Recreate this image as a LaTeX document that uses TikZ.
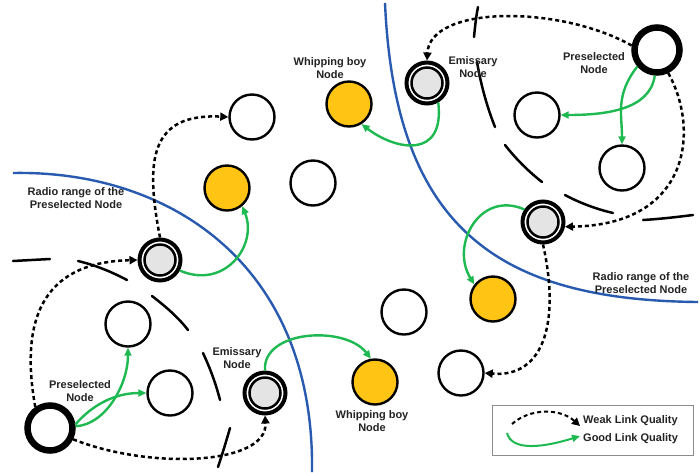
\documentclass[tikz,border=0pt]{standalone}
\usepackage{fontspec}
\setmainfont{Liberation Sans}
\usetikzlibrary{arrows.meta}
\definecolor{yellowc}{RGB}{255,196,20}
\definecolor{greenc}{RGB}{30,185,80}
\definecolor{bluec}{RGB}{40,90,175}
\definecolor{emgray}{RGB}{228,228,228}
\definecolor{txtc}{RGB}{35,35,35}
\definecolor{boxc}{RGB}{140,140,140}
\tikzset{
  whitenode/.style={circle, draw=black, line width=2.4pt, fill=white, minimum size=45pt, inner sep=0pt},
  yellownode/.style={whitenode, fill=yellowc},
  prenode/.style={circle, draw=black, line width=6.5pt, fill=white, minimum size=45pt, inner sep=0pt},
  emnode/.style={circle, draw=black, line width=4pt, fill=white, minimum size=41pt, inner sep=0pt,
    path picture={\fill[emgray] (path picture bounding box.center) circle (14.5pt);
      \draw[line width=2.5pt] (path picture bounding box.center) circle (15.5pt);}},
  weak/.style={line width=2.5pt, dash pattern=on 4pt off 3pt, -{Triangle[length=8pt,width=8pt]}},
  good/.style={line width=2.4pt, greenc, -{Triangle[length=8pt,width=7pt]}},
  rangeline/.style={line width=2.4pt, bluec},
  longdash/.style={line width=2.5pt, black, line cap=round},
  lab/.style={font=\bfseries\fontsize{11pt}{12.8pt}\selectfont, text=txtc, align=center, inner sep=0pt}
}
\begin{document}
\begin{tikzpicture}[x=1pt,y=-1pt]
\useasboundingbox (0,0) rectangle (700,472);
\fill[white] (0,0) rectangle (700,472);

% radio range curves
\draw[rangeline] (13,173) .. controls (170,170) and (315,265) .. (312,472);
\draw[rangeline] (385,3) .. controls (395,230) and (500,300) .. (698,302);

% long black dashes (ranges of emissary nodes)
\draw[longdash] (13,261) -- (50,259);
\draw[longdash] (78,261) .. controls (95,265) and (112,272) .. (127,280);
\draw[longdash] (152,296) .. controls (165,306) and (178,317) .. (188,330);
\draw[longdash] (203,353) .. controls (210,368) and (216,384) .. (220,400);
\draw[longdash] (230,428) .. controls (226,442) and (222,455) .. (218,467);
\draw[longdash] (478,7) .. controls (476,17) and (475,27) .. (474,37);
\draw[longdash] (477,62) .. controls (481,85) and (487,107) .. (495,127);
\draw[longdash] (505,145) .. controls (516,159) and (528,171) .. (542,182);
\draw[longdash] (565,195) .. controls (580,203) and (596,209) .. (613,213);
\draw[longdash] (643,220) .. controls (660,219) and (677,217) .. (693,215);

% nodes
\node[whitenode] (w1) at (252,117) {};
\node[yellownode] (y1) at (349,104) {};
\node[yellownode] (y2) at (227,188) {};
\node[whitenode] (w2m) at (313,183) {};
\node[emnode] (g1) at (160,260) {};
\node[whitenode] (w2) at (128,324) {};
\node[whitenode] (w3) at (170,393) {};
\node[prenode] (ps1) at (50,428) {};
\node[emnode] (e1) at (265,393) {};
\node[yellownode] (y3) at (375,382) {};
\node[emnode] (e2) at (427,83) {};
\node[prenode] (ps2) at (657,50) {};
\node[whitenode] (wa) at (537,115) {};
\node[whitenode] (w4) at (622,168) {};
\node[emnode] (g2) at (543,222) {};
\node[yellownode] (y4) at (493,299) {};
\node[whitenode] (w6) at (404,312) {};
\node[whitenode] (w5) at (461,373) {};

% weak links
\draw[weak] (ps1.125) .. controls (18,310) and (50,262) .. (g1.west);
\draw[weak] (ps1.-26) .. controls (150,470) and (268,465) .. (e1.south);
\draw[weak] (g1.north) .. controls (145,160) and (150,113) .. (w1.west);
\draw[weak] (ps2.170) .. controls (560,5) and (430,5) .. (e2.north);
\draw[weak] (ps2.-64) .. controls (700,130) and (690,225) .. (g2.-12);
\draw[weak] (g2.south) .. controls (560,320) and (545,378) .. (w5.east);

% good links
\draw[good] (g1.-28) .. controls (225,290) and (258,245) .. (y2.-50);
\draw[good] (ps1.4) .. controls (105,425) and (128,385) .. (w2.south);
\draw[good] (ps1.8) .. controls (92,405) and (115,393) .. (w3.west);
\draw[good] (e1.north) .. controls (262,330) and (345,325) .. (y3.100);
\draw[good] (e2.-60) .. controls (445,160) and (395,150) .. (y1.-58);
\draw[good] (ps2.-95) .. controls (650,110) and (605,115) .. (wa.east);
\draw[good] (ps2.-140) .. controls (615,95) and (622,115) .. (w4.north);
\draw[good] (g2.146) .. controls (480,190) and (450,245) .. (y4.142);

% labels
\node[lab] (t1) at (76,198) {Radio range of the\\Preselected Node};
\node[lab] (t2) at (330,68) {Whipping boy\\Node};
\node[lab] (t3) at (473,67) {Emissary\\Node};
\node[lab] (t4) at (594,63) {Preselected\\Node};
\node[lab] (t5) at (237,358) {Emissary\\Node};
\node[lab] (t6) at (80,391) {Preselected\\Node};
\node[lab] (t7) at (372,421) {Whipping boy\\Node};
\node[lab] (t8) at (641,283) {Radio range of the\\Preselected Node};

% legend
\draw[boxc, line width=0.8pt] (492,405) rectangle (693,455);
\coordinate (lw1) at (512,424);
\coordinate (lw2) at (580,426);
\coordinate (lg1) at (507,433);
\coordinate (lg2) at (580,436);
\draw[weak, line width=2pt] (lw1) .. controls (530,408) and (560,408) .. (lw2);
\draw[good, line width=2pt] (lg1) .. controls (512,452) and (545,447) .. (lg2);
\node[lab, anchor=west] (lt1) at (583,421) {Weak Link Quality};
\node[lab, anchor=west] (lt2) at (583,439) {Good Link Quality};
\end{tikzpicture}
\end{document}
